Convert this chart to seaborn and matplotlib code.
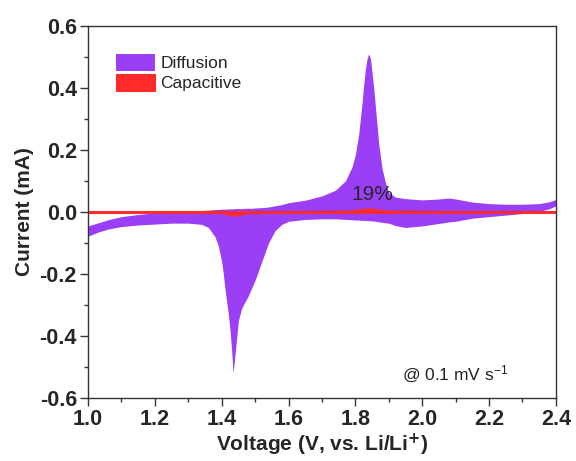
import numpy as np
import matplotlib
matplotlib.use('Agg')
import matplotlib.pyplot as plt
import seaborn as sns

# voltage grid (V) and the two CV branches (mA)
voltage = [1.00, 1.03, 1.06, 1.10, 1.15, 1.20, 1.25, 1.30, 1.34, 1.36, 1.37, 1.38, 1.39,
           1.40, 1.405, 1.41, 1.42, 1.425, 1.43, 1.434, 1.44, 1.45, 1.46, 1.47, 1.48,
           1.49, 1.50, 1.52, 1.54, 1.56, 1.58, 1.60, 1.65, 1.70, 1.74, 1.77, 1.79, 1.80,
           1.81, 1.82, 1.825, 1.83, 1.835, 1.84, 1.845, 1.85, 1.855, 1.86, 1.87, 1.88,
           1.89, 1.90, 1.92, 1.95, 2.00, 2.05, 2.08, 2.10, 2.15, 2.20, 2.25, 2.30, 2.35,
           2.38, 2.40]
anodic = [-0.045, -0.035, -0.025, -0.015, -0.008, -0.003, 0.000, 0.003, 0.005, 0.006,
          0.007, 0.008, 0.008, 0.009, 0.009, 0.009, 0.010, 0.010, 0.010, 0.010, 0.011,
          0.011, 0.011, 0.012, 0.012, 0.012, 0.013, 0.014, 0.016, 0.020, 0.024, 0.030,
          0.038, 0.052, 0.070, 0.100, 0.145, 0.185, 0.250, 0.350, 0.410, 0.460, 0.495,
          0.510, 0.495, 0.450, 0.400, 0.340, 0.220, 0.140, 0.095, 0.062, 0.048, 0.043,
          0.039, 0.042, 0.045, 0.042, 0.032, 0.027, 0.025, 0.025, 0.027, 0.033, 0.040]
cathodic = [-0.078, -0.065, -0.055, -0.047, -0.042, -0.039, -0.036, -0.036, -0.040,
            -0.050, -0.065, -0.080, -0.110, -0.160, -0.200, -0.250, -0.330, -0.380,
            -0.450, -0.520, -0.460, -0.350, -0.310, -0.290, -0.270, -0.245, -0.220,
            -0.160, -0.100, -0.060, -0.040, -0.030, -0.024, -0.022, -0.022, -0.024,
            -0.025, -0.026, -0.026, -0.027, -0.027, -0.027, -0.028, -0.028, -0.028,
            -0.029, -0.029, -0.030, -0.032, -0.033, -0.035, -0.036, -0.044, -0.050,
            -0.045, -0.037, -0.032, -0.030, -0.020, -0.015, -0.010, -0.005, 0.002,
            0.010, 0.020]
# capacitive contribution (thin band around zero)
cap_volt = [1.00, 1.30, 1.40, 1.44, 1.48, 1.60, 1.78, 1.84, 1.90, 2.10, 2.40]
cap_upper = [0.003, 0.003, 0.003, 0.002, 0.003, 0.003, 0.004, 0.012, 0.004, 0.003, 0.003]
cap_lower = [-0.003, -0.003, -0.004, -0.012, -0.004, -0.003, -0.003, -0.002, -0.003, -0.003, -0.003]

sns.set_style('ticks')
plt.rcParams['font.family'] = ['Liberation Sans', 'DejaVu Sans']
plt.rcParams['mathtext.default'] = 'regular'

fig = plt.figure(figsize=(5.76, 4.61), dpi=100)
ax = fig.add_axes([0.1528, 0.1367, 0.8122, 0.8069])

ax.fill_between(voltage, cathodic, anodic, color='#9b3ff7', lw=0, label='Diffusion')
ax.fill_between(cap_volt, cap_lower, cap_upper, color='#ff2a2a', lw=0.8,
                edgecolor='#ff2a2a', label='Capacitive')

ax.text(1.85, 0.055, '19%', fontsize=15, ha='center', va='center')
ax.text(2.10, -0.525, r'@ 0.1 mV s$^{-1}$', fontsize=12.5, ha='center', va='center',
        color='#222222')

ax.set_xlim(1.0, 2.4)
ax.set_ylim(-0.6, 0.6)
ax.set_xticks(np.arange(1.0, 2.41, 0.2))
ax.set_yticks(np.arange(-0.6, 0.61, 0.2))
ax.set_xticks(np.arange(1.1, 2.4, 0.2), minor=True)
ax.set_yticks(np.arange(-0.5, 0.6, 0.2), minor=True)
ax.xaxis.set_major_formatter(matplotlib.ticker.FormatStrFormatter('%.1f'))
ax.yaxis.set_major_formatter(matplotlib.ticker.FormatStrFormatter('%.1f'))
ax.tick_params(which='major', length=6, width=1, pad=2, labelsize=15.5, color='#333333')
ax.tick_params(which='minor', length=3, width=1, color='#333333')
ax.tick_params(top=False, right=False, which='both')
for lab in ax.get_xticklabels() + ax.get_yticklabels():
    lab.set_fontweight('bold')
for s in ax.spines.values():
    s.set_color('#333333')
    s.set_linewidth(1)

ax.set_xlabel(r'Voltage (V, vs. Li/Li$^{\mathbf{+}}$)', fontsize=15, fontweight='bold', labelpad=1)
ax.set_ylabel('Current (mA)', fontsize=15, fontweight='bold', labelpad=4)

ax.legend(loc='upper left', bbox_to_anchor=(0.06, 0.925), frameon=False, fontsize=12.5,
          borderaxespad=0, borderpad=0, handlelength=2.25, handleheight=1.15,
          labelspacing=0.15, handletextpad=0.3)

fig.savefig('out.png', dpi=100)
